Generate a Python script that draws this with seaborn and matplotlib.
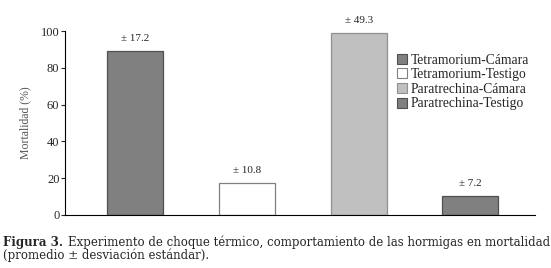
import seaborn as sns
import pandas as pd
import matplotlib.pyplot as plt

grupos = ['Tetramorium-Cámara', 'Tetramorium-Testigo', 'Paratrechina-Cámara', 'Paratrechina-Testigo']
mortalidad = [89.0, 17.2, 98.7, 10.5]
desviacion = ['± 17.2', '± 10.8', '± 49.3', '± 7.2']
colores = ['#808080', '#ffffff', '#c0c0c0', '#808080']
bordes = ['#505050', '#808080', '#909090', '#505050']

df = pd.DataFrame({'GRUPO': grupos, 'MORTALIDAD': mortalidad})

sns.set_style('white')
plt.rcParams['font.family'] = ['Liberation Serif', 'DejaVu Serif']

fig = plt.figure(figsize=(5.51, 2.68), dpi=100)
ax = fig.add_axes([0.118, 0.198, 0.853, 0.686])

sns.barplot(x='GRUPO', y='MORTALIDAD', data=df, hue='GRUPO', palette=colores,
            width=0.5, ax=ax, legend=False, saturation=1)

for bar, borde in zip(ax.patches, bordes):
    bar.set_edgecolor(borde)
    bar.set_linewidth(0.9)

for bar, txt in zip(ax.patches, desviacion):
    ax.annotate(txt, (bar.get_x() + bar.get_width() / 2, bar.get_height()),
                xytext=(0, 9), textcoords='offset points', ha='center', va='center',
                fontsize=8)

handles = [plt.Rectangle((0, 0), 1, 1, facecolor=c, edgecolor=b, linewidth=0.8)
           for c, b in zip(colores, bordes)]
ax.legend(handles, grupos, loc='upper left', bbox_to_anchor=(0.691, 0.915), frameon=False,
          fontsize=9.8, handlelength=0.75, handleheight=0.75, handletextpad=0.3,
          labelspacing=0.12, borderpad=0)

ax.set_ylim(0, 100)
ax.set_xlim(-0.63, 3.58)
ax.set_yticks([0, 20, 40, 60, 80, 100])
ax.tick_params(axis='y', labelsize=9, length=3, width=0.8, direction='out', left=True, pad=1)
ax.tick_params(axis='x', bottom=False, labelbottom=False)
ax.spines['top'].set_visible(False)
ax.spines['right'].set_visible(False)
ax.spines['left'].set_color('black')
ax.spines['bottom'].set_color('black')
ax.spines['left'].set_linewidth(0.8)
ax.spines['bottom'].set_linewidth(0.8)

ax.set_xlabel('')
ax.set_ylabel('Mortalidad (%)', fontsize=8.5, color='#555555', labelpad=7)

# pie de figura
fig.canvas.draw()
r = fig.canvas.get_renderer()
t1 = fig.text(0.006, 0.097, 'Figura 3.', fontsize=8.45, va='center', weight='bold',
              family='DejaVu Serif')
ext = t1.get_window_extent(r)
x2 = (ext.x1 + 5) / fig.bbox.width
fig.text(x2, 0.097, 'Experimento de choque térmico, comportamiento de las hormigas en mortalidad',
         fontsize=8.45, va='center', family='DejaVu Serif')
fig.text(0.006, 0.047, '(promedio ± desviación estándar).', fontsize=8.45, va='center',
         family='DejaVu Serif')

fig.savefig('out.png', dpi=100)
